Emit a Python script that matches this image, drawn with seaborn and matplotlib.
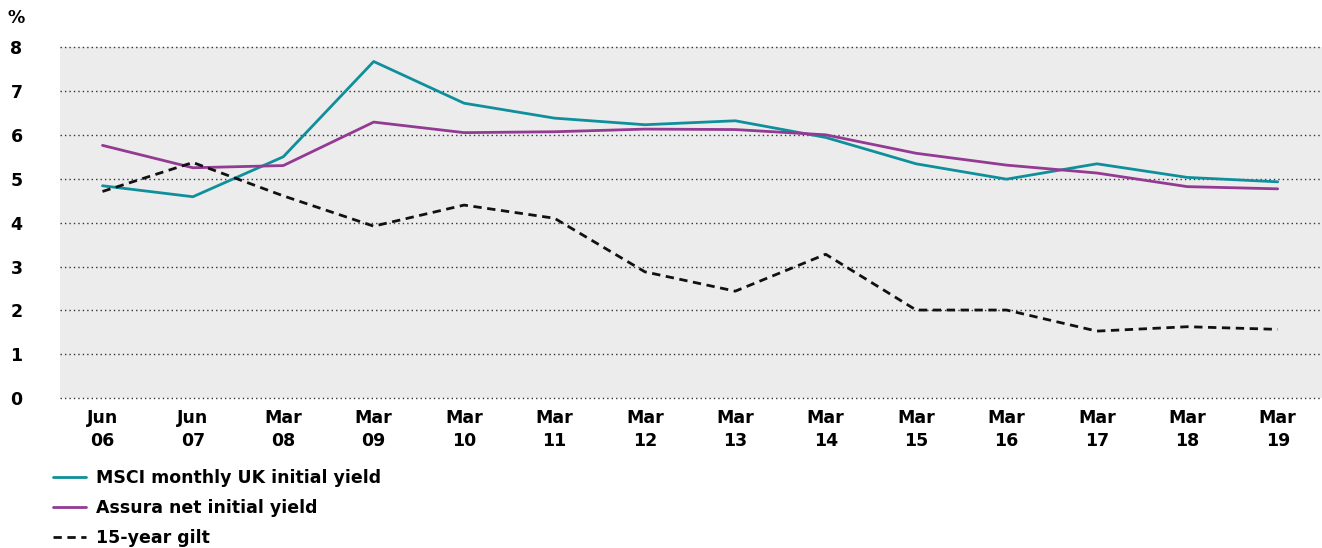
import pandas as pd
import numpy as np
import matplotlib
matplotlib.use("Agg")
import matplotlib.pyplot as plt
import seaborn as sns

# Data (yield, %)
periods = ["Jun\n06", "Jun\n07", "Mar\n08", "Mar\n09", "Mar\n10", "Mar\n11", "Mar\n12",
           "Mar\n13", "Mar\n14", "Mar\n15", "Mar\n16", "Mar\n17", "Mar\n18", "Mar\n19"]
msci = [4.84, 4.59, 5.50, 7.67, 6.72, 6.38, 6.23, 6.32, 5.94, 5.34, 4.99, 5.34, 5.03, 4.93]
assura = [5.76, 5.25, 5.30, 6.29, 6.05, 6.07, 6.13, 6.12, 6.00, 5.58, 5.31, 5.13, 4.82, 4.77]
gilt = [4.71, 5.37, 4.61, 3.92, 4.40, 4.10, 2.88, 2.44, 3.28, 2.01, 2.01, 1.53, 1.63, 1.57]
series_names = ["MSCI monthly UK initial yield", "Assura net initial yield", "15-year gilt"]
yticks = [0, 1, 2, 3, 4, 5, 6, 7, 8]

pos = np.arange(len(periods))
df = pd.concat([
    pd.DataFrame({"pos": pos, "value": vals, "series": name})
    for name, vals in zip(series_names, [msci, assura, gilt])
])

sns.set_theme(style="white")
plt.rcParams["font.family"] = ["DejaVu Sans"]
plt.rcParams["font.weight"] = "bold"
plt.rcParams["text.color"] = "black"
plt.rcParams["xtick.color"] = "black"
plt.rcParams["ytick.color"] = "black"
fs = 12.5

fig = plt.figure(figsize=(13.22, 5.48), dpi=100)
ax = fig.add_axes([60 / 1322, 1 - 398.3 / 548, 1 - 60 / 1322, (398.3 - 47) / 548])
ax.set_facecolor("#ececec")

palette = {series_names[0]: "#0f8f9b", series_names[1]: "#933a92", series_names[2]: "#111111"}
dashes = {series_names[0]: "", series_names[1]: "", series_names[2]: (3, 2)}
sns.lineplot(data=df, x="pos", y="value", hue="series", style="series",
             palette=palette, dashes=dashes, linewidth=2, ax=ax, sort=False)

ax.set_xlim(-0.47, 13.49)
ax.set_ylim(0, 8)
ax.set_yticks(yticks)
ax.set_yticklabels([str(t) for t in yticks], fontsize=fs, fontweight="bold", color="black")
ax.set_xticks(pos)
ax.set_xticklabels(periods, fontsize=fs, fontweight="bold", linespacing=1.3, color="black")
ax.tick_params(axis="y", length=0, pad=27)
ax.tick_params(axis="x", length=0, pad=8)
ax.set_xlabel("")
ax.set_ylabel("")
for s in ax.spines.values():
    s.set_visible(False)
ax.yaxis.grid(True, color="#333333", linestyle=(0, (1, 2.2)), linewidth=1)
ax.xaxis.grid(False)
ax.set_axisbelow(True)
for gl in ax.get_ygridlines():
    gl.set_clip_on(False)

fig.text(8 / 1322, 1 - 18 / 548, "%", fontsize=fs, fontweight="bold", va="center", ha="left",
         color="black")

handles, labels = ax.get_legend_handles_labels()
leg = ax.legend(handles, labels, loc="upper left", bbox_to_anchor=(53 / 1322, 1 - 469 / 548),
                bbox_transform=fig.transFigure, frameon=False,
                handlelength=1.9, handletextpad=0.6, labelspacing=0.68,
                borderpad=0, borderaxespad=0, prop={"weight": "bold", "size": fs})
for t in leg.get_texts():
    t.set_color("black")

fig.savefig("out.png", dpi=100)
